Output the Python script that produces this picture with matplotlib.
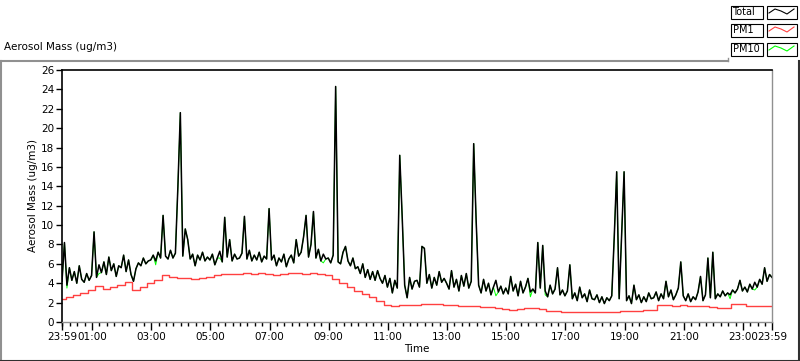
import numpy as np
import matplotlib.pyplot as plt
from matplotlib.lines import Line2D

# ---- data ----
# Total, one value every 5 minutes from 23:59 (12 per hour)
total = [
    4.2, 8.2, 3.8, 5.6, 4.3, 5.2, 4.0, 5.8, 4.4, 4.1, 5.0, 4.3,
    4.8, 9.3, 4.6, 5.9, 5.1, 6.2, 4.9, 6.7, 5.3, 6.0, 4.7, 5.8,
    5.6, 6.9, 5.2, 6.4, 4.9, 4.2, 5.5, 6.1, 5.8, 6.6, 6.0, 6.3,
    6.4, 6.9, 6.3, 7.2, 6.6, 11.0, 6.8, 6.5, 7.4, 6.6, 7.1, 13.9,
    21.6, 6.8, 9.6, 8.5, 6.5, 7.0, 5.8, 6.9, 6.4, 7.2, 6.3, 6.7,
    6.4, 7.0, 5.9, 6.6, 7.3, 6.2, 10.8, 6.7, 8.5, 6.3, 7.0, 6.5,
    6.6, 7.1, 10.9, 6.5, 7.4, 6.3, 6.9, 6.4, 7.2, 6.2, 6.8, 6.5,
    11.7, 6.4, 6.9, 5.8, 6.6, 6.2, 7.0, 5.7, 6.5, 6.9, 6.1, 8.5,
    6.8, 7.2, 8.8, 11.0, 6.7, 8.0, 11.4, 6.6, 7.5, 6.3, 7.0, 6.5,
    6.6, 6.1, 6.9, 24.3, 6.2, 6.0, 7.2, 7.8, 6.3, 5.8, 6.6, 5.5,
    5.7, 5.0, 6.0, 4.6, 5.4, 4.4, 5.2, 4.3, 5.3, 4.5, 4.0, 4.8,
    3.6, 4.5, 3.0, 4.3, 3.5, 17.2, 10.8, 3.8, 2.5, 4.6, 3.4, 4.2,
    4.3, 3.6, 7.8, 7.6, 4.0, 4.9, 3.5, 4.6, 3.8, 5.2, 4.1, 4.5,
    4.0, 3.4, 5.3, 3.6, 4.4, 3.2, 4.8, 3.7, 5.0, 3.5, 4.2, 18.4,
    10.4, 3.8, 3.0, 4.4, 3.2, 4.0, 2.8, 3.6, 4.3, 3.1, 3.7, 2.9,
    3.5, 2.9, 4.7, 3.2, 3.9, 2.7, 4.2, 3.0, 3.6, 4.5, 3.1, 3.4,
    3.0, 8.2, 3.5, 7.9, 3.2, 2.6, 3.8, 2.9, 3.4, 5.6, 2.8, 3.3,
    2.7, 3.2, 5.9, 2.4, 3.0, 2.2, 3.6, 2.5, 2.9, 2.1, 3.3, 2.4,
    2.3, 2.8, 2.0, 2.6, 1.9, 2.5, 2.2, 2.7, 8.7, 15.5, 2.4, 8.9,
    15.5, 2.2, 2.7, 1.9, 3.8, 2.3, 2.8, 2.0, 2.6, 2.1, 3.0, 2.4,
    2.5, 3.1, 2.2, 2.9, 2.4, 4.2, 2.6, 3.3, 2.3, 2.8, 3.5, 6.2,
    2.7, 2.2, 2.9, 2.1, 2.6, 2.3, 3.1, 4.7, 2.2, 2.8, 6.6, 2.5,
    7.2, 2.4, 2.9, 2.6, 3.2, 2.7, 3.0, 2.8, 3.3, 3.0, 3.4, 4.3,
    3.2, 3.6, 3.1, 3.9, 3.4, 4.1, 3.6, 4.4, 3.9, 5.6, 4.2, 4.9,
    4.6,
]

# PM10 nearly equal to Total; only a few samples differ (green shows below black)
pm10 = list(total)
pm10[2] = 3.5
pm10[15] = 5.0
pm10[38] = 5.9
pm10[64] = 6.6
pm10[106] = 6.1
pm10[128] = 5.3
pm10[176] = 2.7
pm10[190] = 2.6
pm10[196] = 2.8
pm10[271] = 2.4
pm10[281] = 3.3

# PM1, one value every 15 minutes
pm1 = [
    2.4, 2.6, 2.8, 3.0,
    3.3, 3.7, 3.4, 3.6,
    3.8, 4.1, 3.3, 3.6,
    4.0, 4.3, 4.8, 4.6,
    4.5, 4.5, 4.4, 4.5,
    4.6, 4.9, 5.0, 5.0,
    5.0, 5.05, 5.0, 5.1,
    5.0, 4.9, 5.0, 5.1,
    5.1, 5.0, 5.1, 5.0,
    4.85, 4.4, 4.0, 3.6,
    3.2, 2.9, 2.6, 2.2,
    1.8, 1.7, 1.8, 1.8,
    1.75, 1.85, 1.9, 1.85,
    1.75, 1.75, 1.7, 1.65,
    1.6, 1.55, 1.5, 1.45,
    1.35, 1.25, 1.3, 1.4,
    1.4, 1.3, 1.15, 1.1,
    1.05, 1.05, 1.05, 1.0,
    1.05, 1.05, 1.0, 1.05,
    1.1, 1.15, 1.15, 1.2,
    1.25, 1.75, 1.75, 1.7,
    1.75, 1.6, 1.65, 1.6,
    1.55, 1.4, 1.45, 1.9,
    1.85, 1.6, 1.7, 1.6,
    1.65,
]

xlabels = ["23:59", "01:00", "03:00", "05:00", "07:00", "09:00", "11:00",
           "13:00", "15:00", "17:00", "19:00", "21:00", "23:00", "23:59"]

# hours since 23:59
t_total = np.arange(len(total)) * 5 / 60
t_pm1 = np.arange(len(pm1)) * 15 / 60

plt.rcParams['font.family'] = ['DejaVu Sans']
fig = plt.figure(figsize=(8, 3.61), dpi=100)
ax = fig.add_axes([62/800, 39/361, 710/800, 252/361])

ax.plot(t_total, pm10, color='#00ff00', lw=0.7)
ax.plot(t_total, total, color='black', lw=1.1)
ax.plot(t_pm1, pm1, color='#ff4040', lw=1.0, drawstyle='steps-mid')

ax.set_xlim(0, 24)
ax.set_ylim(0, 26)
ax.set_yticks(np.arange(0, 27, 2))
majors = [0] + [(61 + 120*k) / 60 for k in range(12)] + [24]
ax.set_xticks(majors)
ax.set_xticklabels(xlabels)
ax.set_xticks([(1 + 15*k) / 60 for k in range(96)], minor=True)
ax.tick_params(axis='both', labelsize=7.5, direction='out', pad=1.5)
ax.tick_params(axis='x', which='major', length=6, width=1)
ax.tick_params(axis='x', which='minor', length=3, width=1)
ax.tick_params(axis='y', length=4, width=1)
ax.set_xlabel("Time", fontsize=7.5, labelpad=1)
ax.set_ylabel("Aerosol Mass (ug/m3)", fontsize=7.5, labelpad=2)
for s in ['top', 'left']:
    ax.spines[s].set_color('black')
    ax.spines[s].set_linewidth(1.2)
for s in ['right', 'bottom']:
    ax.spines[s].set_color('#909090')
    ax.spines[s].set_linewidth(1.0)

# frame around the graph
fig.add_artist(Line2D([0, 728/800], [1 - 61/361, 1 - 61/361], color='#909090', lw=1.5))
fig.add_artist(Line2D([728/800, 728/800], [1 - 61/361, 1 - 58/361], color='#909090', lw=1))
fig.add_artist(Line2D([0.5/800, 0.5/800], [0, 1 - 61/361], color='#909090', lw=1.5))
fig.add_artist(Line2D([799/800, 799/800], [0, 1 - 61/361], color='#303030', lw=1.5))
fig.add_artist(Line2D([0, 1], [0.5/361, 0.5/361], color='#303030', lw=1.5))

fig.text(4/800, 1 - 47/361, "Aerosol Mass (ug/m3)", fontsize=7.5, va='center')

# legend panel
names = ["Total", "PM1", "PM10"]
colors = ['black', '#ff4040', '#00ff00']
ys = [12, 30, 49]
for name, c, y in zip(names, colors, ys):
    yf = 1 - y/361
    fig.add_artist(plt.Rectangle((731/800, yf - 7/361), 32/800, 13/361, transform=fig.transFigure,
                                 fill=False, ec='black', lw=0.8))
    fig.text(732.5/800, yf, name, fontsize=7, va='center', ha='left')
    fig.add_artist(plt.Rectangle((767/800, yf - 7/361), 30/800, 13/361, transform=fig.transFigure,
                                 fill=False, ec='black', lw=0.8))
    sx = np.array([769, 775, 781, 787, 794]) / 800
    sy = 1 - (y + np.array([1, -3, -1, 2, -3])) / 361
    fig.add_artist(Line2D(sx, sy, color=c, lw=0.8))

fig.savefig("out.png", dpi=100)
